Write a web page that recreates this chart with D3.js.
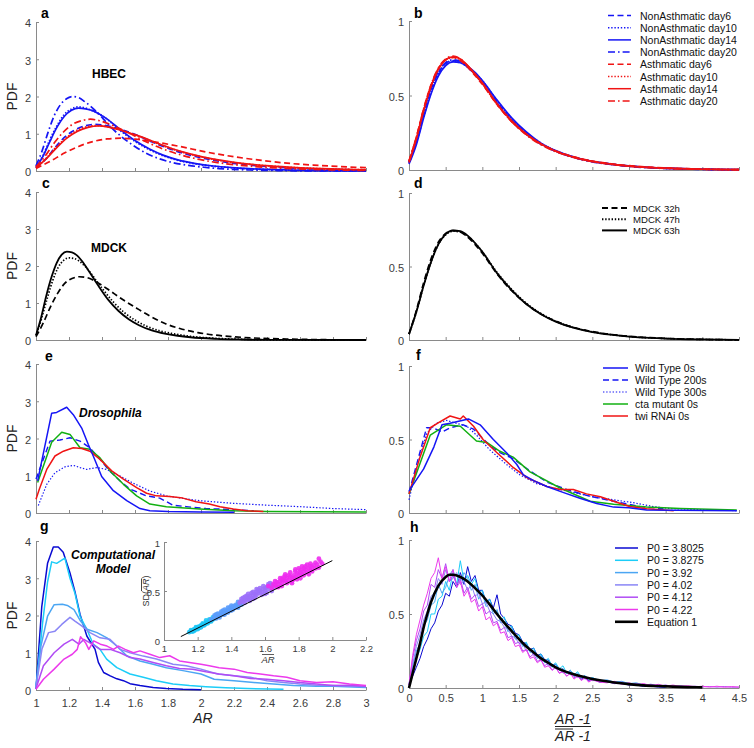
<!DOCTYPE html>
<html><head><meta charset="utf-8">
<script src="https://cdn.jsdelivr.net/npm/d3@7"></script>
<style>body{margin:0;background:#fff}svg{display:block}</style>
</head><body>
<svg id="chart" width="754" height="748"></svg>
<script>
const F = '"Liberation Sans", Arial, Helvetica, sans-serif';

// ---------- tick values ----------
const leftXTicks = [1,1.2,1.4,1.6,1.8,2,2.2,2.4,2.6,2.8,3];
const rightXTicks = [0,0.5,1,1.5,2,2.5,3,3.5,4,4.5];
const leftYTicks = [0,1,2,3,4];
const rightYTicks = [0,0.5,1];
const insetXTicks = [1,1.2,1.4,1.6,1.8,2,2.2];
const insetYTicks = [0,0.5,1];

// ---------- panel a (HBEC, AR vs PDF) ----------
const aNA6_AR  = [1,1.059,1.118,1.177,1.236,1.295,1.354,1.413,1.472,1.531,1.59,1.708,1.826,1.944,2.062,2.18,2.328,2.475,2.623,2.77,3.0];
const aNA6_PDF = [0.085,0.32,0.64,0.92,1.10,1.21,1.25,1.23,1.17,1.09,1.0,0.77,0.57,0.415,0.30,0.215,0.144,0.098,0.068,0.046,0.025];
const aNA10_AR  = [1,1.043,1.085,1.128,1.17,1.213,1.255,1.298,1.34,1.383,1.425,1.51,1.595,1.68,1.765,1.85,1.956,2.063,2.169,2.275,2.488,2.7,2.913,3.0];
const aNA10_PDF = [0.12,0.42,0.85,1.22,1.51,1.66,1.72,1.69,1.62,1.53,1.41,1.09,0.81,0.59,0.42,0.3,0.2,0.134,0.092,0.061,0.026,0.012,0.005,0.004];
const aNA14_AR  = [1,1.043,1.086,1.129,1.172,1.215,1.258,1.301,1.344,1.387,1.43,1.516,1.602,1.688,1.774,1.86,1.968,2.075,2.183,2.29,2.505,2.72,2.935,3.0];
const aNA14_PDF = [0.09,0.40,0.81,1.19,1.47,1.63,1.69,1.67,1.62,1.52,1.40,1.09,0.81,0.59,0.42,0.30,0.20,0.135,0.093,0.063,0.028,0.012,0.005,0.004];
const aNA20_AR  = [1,1.037,1.074,1.111,1.148,1.185,1.222,1.259,1.296,1.333,1.37,1.444,1.518,1.592,1.666,1.74,1.833,1.925,2.018,2.11,2.295,2.48,2.665,3.0];
const aNA20_PDF = [0.14,0.54,1.05,1.49,1.78,1.94,2.0,1.97,1.86,1.73,1.58,1.22,0.92,0.68,0.48,0.34,0.22,0.15,0.1,0.065,0.027,0.011,0.003,0.001];
const aA6_AR  = [1,1.086,1.172,1.258,1.344,1.43,1.516,1.602,1.688,1.774,1.86,2.032,2.204,2.376,2.548,2.72,2.935,3.0];
const aA6_PDF = [0.07,0.26,0.48,0.66,0.79,0.86,0.88,0.855,0.80,0.74,0.67,0.51,0.38,0.28,0.20,0.15,0.10,0.09];
const aA10_AR  = [1,1.062,1.124,1.186,1.248,1.31,1.372,1.434,1.496,1.558,1.62,1.744,1.868,1.992,2.116,2.24,2.395,2.55,2.705,2.86,3.0];
const aA10_PDF = [0.1,0.34,0.65,0.9,1.09,1.19,1.22,1.19,1.12,1.03,0.94,0.72,0.53,0.39,0.28,0.205,0.14,0.094,0.065,0.044,0.032];
const aA14_AR  = [1,1.063,1.126,1.189,1.252,1.315,1.378,1.441,1.504,1.567,1.63,1.756,1.882,2.008,2.134,2.26,2.418,2.575,2.733,2.89,3.0];
const aA14_PDF = [0.08,0.33,0.63,0.89,1.07,1.17,1.21,1.18,1.11,1.02,0.93,0.71,0.52,0.38,0.28,0.2,0.135,0.092,0.063,0.041,0.033];
const aA20_AR  = [1,1.055,1.11,1.165,1.22,1.275,1.33,1.385,1.44,1.495,1.55,1.66,1.77,1.88,1.99,2.1,2.238,2.375,2.513,2.65,2.925,3.0];
const aA20_PDF = [0.11,0.4,0.75,1.04,1.25,1.35,1.39,1.35,1.27,1.16,1.05,0.8,0.59,0.43,0.31,0.225,0.153,0.102,0.071,0.047,0.02,0.016];

// ---------- panel b (normalized HBEC) ----------
const bX = [0,0.1,0.2,0.3,0.4,0.5,0.6,0.7,0.8,0.9,1.0,1.2,1.4,1.6,1.8,2.0,2.25,2.5,2.75,3.0,3.5,4.0,4.5];
const bNA6  = [0.05,0.19,0.38,0.54,0.65,0.715,0.735,0.725,0.69,0.645,0.59,0.455,0.335,0.245,0.177,0.127,0.085,0.058,0.04,0.027,0.012,0.005,0.002];
const bNA10 = [0.05,0.18,0.36,0.52,0.64,0.705,0.73,0.72,0.69,0.65,0.6,0.465,0.345,0.25,0.18,0.128,0.085,0.057,0.039,0.026,0.011,0.005,0.002];
const bNA14 = [0.04,0.17,0.35,0.51,0.63,0.7,0.725,0.72,0.695,0.655,0.6,0.47,0.35,0.255,0.18,0.13,0.087,0.058,0.04,0.027,0.012,0.005,0.002];
const bNA20 = [0.05,0.2,0.39,0.55,0.66,0.72,0.74,0.73,0.69,0.64,0.585,0.45,0.33,0.24,0.173,0.125,0.083,0.055,0.037,0.024,0.01,0.004,0.001];
const bA6  = [0.06,0.22,0.41,0.57,0.68,0.74,0.755,0.735,0.69,0.635,0.575,0.44,0.325,0.24,0.175,0.128,0.088,0.06,0.042,0.029,0.014,0.006,0.002];
const bA10 = [0.06,0.21,0.4,0.56,0.675,0.74,0.755,0.74,0.695,0.64,0.58,0.445,0.33,0.24,0.175,0.127,0.086,0.058,0.04,0.027,0.012,0.005,0.002];
const bA14 = [0.05,0.21,0.4,0.56,0.675,0.74,0.76,0.745,0.7,0.645,0.585,0.445,0.33,0.24,0.174,0.126,0.085,0.058,0.04,0.026,0.012,0.005,0.002];
const bA20 = [0.06,0.22,0.41,0.57,0.685,0.745,0.765,0.745,0.7,0.64,0.58,0.44,0.325,0.235,0.17,0.124,0.084,0.056,0.039,0.026,0.011,0.005,0.002];

// ---------- panel c (MDCK) ----------
const c32_AR  = [1,1.044,1.087,1.131,1.174,1.218,1.262,1.305,1.349,1.392,1.436,1.523,1.61,1.698,1.785,1.872,1.981,2.09,2.199,2.308,2.526,2.744,2.962,3.0];
const c32_PDF = [0.09,0.46,0.89,1.26,1.53,1.66,1.71,1.69,1.61,1.5,1.37,1.1,0.86,0.63,0.44,0.31,0.2,0.13,0.087,0.057,0.025,0.009,0.002,0.002];
const c47_AR  = [1,1.033,1.067,1.1,1.133,1.167,1.2,1.233,1.266,1.3,1.333,1.4,1.466,1.533,1.599,1.666,1.749,1.833,1.916,1.999,2.166,2.332,2.5,3.0];
const c47_PDF = [0.12,0.57,1.11,1.59,1.95,2.15,2.22,2.2,2.12,1.98,1.8,1.4,1.04,0.75,0.54,0.38,0.25,0.17,0.11,0.072,0.03,0.012,0.003,0.0];
const c63_AR  = [1,1.031,1.062,1.094,1.125,1.156,1.187,1.218,1.25,1.281,1.312,1.374,1.437,1.499,1.562,1.624,1.702,1.78,1.858,1.936,2.092,2.248,2.404,3.0];
const c63_PDF = [0.13,0.61,1.19,1.7,2.08,2.31,2.39,2.37,2.28,2.12,1.92,1.49,1.09,0.79,0.56,0.4,0.26,0.173,0.115,0.074,0.032,0.013,0.003,0.0];

// ---------- panel d (normalized MDCK) ----------
const dX = [0,0.1,0.2,0.3,0.4,0.5,0.6,0.7,0.8,0.9,1.0,1.2,1.4,1.6,1.8,2.0,2.25,2.5,2.75,3.0,3.5,4.0,4.5];
const d32 = [0.04,0.2,0.39,0.55,0.665,0.725,0.745,0.735,0.7,0.65,0.59,0.45,0.335,0.245,0.177,0.128,0.085,0.057,0.038,0.025,0.011,0.004,0.001];
const d47 = [0.04,0.19,0.37,0.53,0.65,0.715,0.74,0.735,0.705,0.66,0.6,0.46,0.345,0.25,0.18,0.128,0.084,0.056,0.037,0.024,0.01,0.004,0.001];
const d63 = [0.04,0.19,0.37,0.53,0.65,0.72,0.745,0.74,0.71,0.66,0.6,0.455,0.34,0.245,0.175,0.125,0.082,0.054,0.036,0.023,0.01,0.004,0.001];

// ---------- panel e (Drosophila) [AR, PDF] ----------
const eWT0   = [[1.01,0.86],[1.095,2.68],[1.125,2.7],[1.186,2.84],[1.226,2.64],[1.277,2.28],[1.317,1.84],[1.347,1.53],[1.398,0.98],[1.469,0.6],[1.55,0.33],[1.63,0.12],[1.69,0.06],[1.8,0.04],[2.0,0.03],[2.2,0.02]];
const eWT200 = [[1.0,0.91],[1.085,1.93],[1.145,1.96],[1.206,2.02],[1.267,1.93],[1.327,1.75],[1.388,1.44],[1.448,1.12],[1.51,0.86],[1.57,0.64],[1.67,0.46],[1.75,0.4],[1.83,0.21],[1.91,0.17],[2.03,0.12],[2.2,0.09],[2.32,0.06]];
const eWT300 = [[1.014,0.2],[1.065,0.77],[1.115,1.08],[1.176,1.24],[1.226,1.28],[1.267,1.22],[1.307,1.17],[1.368,1.22],[1.428,1.17],[1.51,0.99],[1.59,0.8],[1.69,0.59],[1.79,0.46],[1.893,0.39],[1.994,0.33],[2.196,0.26],[2.4,0.21],[2.6,0.17],[2.8,0.12],[3.0,0.09]];
const eCta   = [[1.01,0.82],[1.095,1.9],[1.156,2.17],[1.206,2.11],[1.267,1.75],[1.327,1.71],[1.388,1.48],[1.459,1.08],[1.53,0.77],[1.61,0.46],[1.69,0.24],[1.79,0.17],[1.99,0.11],[2.2,0.06],[2.4,0.04],[3.0,0.03]];
const eTwi   = [[1.0,0.37],[1.02,0.64],[1.065,1.17],[1.115,1.53],[1.166,1.66],[1.226,1.75],[1.277,1.73],[1.327,1.66],[1.388,1.44],[1.459,1.13],[1.53,0.91],[1.61,0.68],[1.67,0.53],[1.73,0.46],[1.81,0.44],[1.89,0.4],[1.97,0.3],[2.05,0.24],[2.115,0.17],[2.196,0.11],[2.277,0.06],[2.378,0.04]];

// ---------- panel f (normalized Drosophila) ----------
const fWT0   = [[0,0.15],[0.2,0.3],[0.34,0.45],[0.45,0.6],[0.56,0.61],[0.81,0.64],[0.97,0.6],[1.15,0.5],[1.33,0.41],[1.47,0.33],[1.56,0.26],[1.7,0.22],[1.88,0.18],[2.1,0.14],[2.33,0.1],[2.56,0.065],[2.79,0.04],[3.0,0.035],[3.24,0.02],[4.47,0.016]];
const fWT200 = [[0,0.14],[0.24,0.58],[0.33,0.58],[0.45,0.55],[0.56,0.58],[0.74,0.6],[0.88,0.57],[1.1,0.46],[1.24,0.41],[1.42,0.37],[1.61,0.3],[1.88,0.21],[2.15,0.16],[2.42,0.12],[2.79,0.08],[3.15,0.044],[3.47,0.029]];
const fWT300 = [[0,0.09],[0.11,0.32],[0.24,0.54],[0.37,0.61],[0.51,0.63],[0.65,0.61],[0.79,0.59],[0.92,0.53],[1.1,0.43],[1.33,0.33],[1.51,0.26],[1.74,0.2],[1.97,0.17],[2.24,0.14],[2.51,0.11],[2.79,0.09],[3.06,0.07],[3.33,0.044],[3.56,0.03],[4.15,0.02],[4.47,0.016]];
const fCta   = [[0,0.13],[0.29,0.53],[0.51,0.6],[0.7,0.59],[0.92,0.49],[1.06,0.48],[1.24,0.42],[1.42,0.38],[1.65,0.28],[2.06,0.17],[2.47,0.08],[2.79,0.06],[3.24,0.04],[3.7,0.03],[4.47,0.02]];
const fTwi   = [[0,0.13],[0.15,0.38],[0.29,0.58],[0.42,0.62],[0.56,0.66],[0.7,0.64],[0.74,0.66],[0.88,0.59],[1.01,0.5],[1.2,0.41],[1.42,0.31],[1.61,0.24],[1.88,0.18],[2.06,0.16],[2.24,0.16],[2.42,0.13],[2.61,0.11],[2.79,0.08],[3.01,0.044],[3.24,0.029],[3.61,0.016]];

// ---------- panel g (computational model) [AR, PDF] ----------
const gP38025 = [[1.0,0.03],[1.035,2.24],[1.07,3.4],[1.105,3.84],[1.135,3.84],[1.165,3.7],[1.206,3.14],[1.236,2.64],[1.267,2.03],[1.308,1.45],[1.358,1.09],[1.378,0.74],[1.41,0.47],[1.45,0.38],[1.49,0.3],[1.53,0.25],[1.57,0.17],[1.63,0.12],[1.71,0.07],[1.79,0.04],[1.89,0.02],[2.0,0.01]];
const gP38275 = [[1.0,0.05],[1.04,1.8],[1.07,2.9],[1.095,3.44],[1.125,3.4],[1.175,3.54],[1.206,3.0],[1.236,2.6],[1.267,1.98],[1.308,1.63],[1.347,1.23],[1.388,1.09],[1.428,0.83],[1.49,0.6],[1.57,0.43],[1.65,0.34],[1.73,0.25],[1.83,0.16],[1.93,0.12],[2.03,0.09],[2.15,0.06],[2.28,0.04],[2.5,0.02]];
const gP392 = [[1.0,0.1],[1.03,1.18],[1.07,1.98],[1.11,2.29],[1.16,2.3],[1.19,2.27],[1.23,2.16],[1.27,1.85],[1.31,1.63],[1.37,1.54],[1.43,1.4],[1.49,1.18],[1.55,0.92],[1.63,0.78],[1.71,0.69],[1.79,0.6],[1.89,0.52],[2.0,0.43],[2.08,0.29],[2.2,0.25],[2.32,0.2],[2.44,0.16],[2.56,0.12],[2.7,0.1],[2.8,0.1],[3.0,0.07]];
const gP402 = [[1.0,0.07],[1.036,1.1],[1.076,1.54],[1.115,1.58],[1.156,1.76],[1.206,1.95],[1.236,1.85],[1.277,1.72],[1.327,1.54],[1.388,1.4],[1.448,1.36],[1.51,1.09],[1.57,1.0],[1.65,0.91],[1.73,0.83],[1.83,0.69],[1.91,0.65],[2.0,0.56],[2.1,0.43],[2.2,0.38],[2.3,0.34],[2.4,0.25],[2.5,0.2],[2.6,0.16],[2.7,0.13],[2.8,0.12],[3.0,0.09]];
const gP412 = [[1.0,0.04],[1.045,0.65],[1.11,1.0],[1.17,1.23],[1.22,1.36],[1.26,1.23],[1.29,1.36],[1.34,1.23],[1.39,1.09],[1.45,1.09],[1.51,1.0],[1.57,0.87],[1.63,0.83],[1.71,0.74],[1.79,0.65],[1.87,0.58],[1.95,0.56],[2.03,0.49],[2.11,0.43],[2.2,0.38],[2.3,0.31],[2.4,0.29],[2.5,0.25],[2.6,0.2],[2.7,0.16],[2.8,0.12],[2.9,0.13],[3.0,0.1]];
const gP422 = [[1.0,0.02],[1.045,0.29],[1.11,0.56],[1.17,0.83],[1.22,0.96],[1.25,1.09],[1.27,1.43],[1.3,1.27],[1.32,1.09],[1.35,1.32],[1.39,1.23],[1.43,1.18],[1.47,1.09],[1.5,1.18],[1.54,1.09],[1.59,1.0],[1.63,1.05],[1.69,0.96],[1.75,0.87],[1.81,0.92],[1.87,0.78],[1.93,0.74],[2.0,0.69],[2.05,0.65],[2.11,0.6],[2.2,0.56],[2.28,0.47],[2.36,0.43],[2.44,0.38],[2.52,0.34],[2.6,0.25],[2.7,0.2],[2.8,0.22],[2.9,0.16],[3.0,0.12]];

// ---------- inset scatter: mean AR vs SD(AR) ----------
const insCyan = [[1.15,0.08],[1.16,0.09],[1.17,0.1],[1.17,0.085],[1.18,0.1],[1.18,0.11],[1.19,0.11],[1.19,0.12],[1.2,0.12],[1.2,0.13],[1.21,0.125],[1.21,0.14],[1.22,0.14],[1.22,0.15],[1.23,0.15],[1.23,0.16],[1.24,0.16],[1.25,0.17],[1.25,0.18],[1.26,0.18],[1.27,0.19],[1.27,0.2],[1.28,0.2],[1.29,0.21],[1.3,0.22],
  [1.16,0.1],[1.18,0.095],[1.2,0.11],[1.22,0.13],[1.24,0.15],[1.26,0.17],[1.28,0.19],[1.19,0.13],[1.23,0.17],[1.27,0.21],[1.29,0.23],[1.25,0.2]];
const insBlue = [[1.28,0.21],[1.3,0.23],[1.31,0.22],[1.32,0.24],[1.33,0.25],[1.33,0.26],[1.34,0.27],[1.35,0.26],[1.35,0.28],[1.36,0.28],[1.37,0.29],[1.37,0.3],[1.38,0.3],[1.39,0.31],[1.39,0.33],[1.4,0.32],[1.41,0.34],[1.42,0.33],[1.42,0.35],[1.43,0.36],[1.44,0.36],[1.45,0.37],[1.3,0.25],[1.34,0.29],[1.38,0.33],
  [1.31,0.26],[1.33,0.23],[1.35,0.3],[1.36,0.26],[1.38,0.28],[1.4,0.35],[1.41,0.31],[1.43,0.34],[1.44,0.39],[1.32,0.27],[1.36,0.31],[1.4,0.3],[1.44,0.33],[1.46,0.36]];
const insPurple = [[1.45,0.38],[1.46,0.4],[1.47,0.39],[1.48,0.41],[1.49,0.42],[1.5,0.41],[1.5,0.44],[1.51,0.45],[1.52,0.43],[1.53,0.46],[1.54,0.47],[1.55,0.46],[1.55,0.49],[1.56,0.48],[1.57,0.5],[1.58,0.49],[1.59,0.52],[1.6,0.5],[1.6,0.53],[1.61,0.54],[1.62,0.52],[1.63,0.55],[1.64,0.56],[1.65,0.54],[1.47,0.43],[1.52,0.48],[1.57,0.53],
  [1.46,0.42],[1.48,0.38],[1.49,0.45],[1.51,0.4],[1.53,0.49],[1.54,0.43],[1.56,0.51],[1.58,0.46],[1.59,0.55],[1.61,0.48],[1.62,0.57],[1.64,0.5],[1.5,0.47],[1.55,0.52],[1.6,0.47],[1.63,0.58],[1.48,0.44],[1.53,0.42]];
const insMagenta = [[1.62,0.55],[1.64,0.53],[1.65,0.57],[1.66,0.56],[1.67,0.59],[1.68,0.57],[1.69,0.6],[1.7,0.58],[1.7,0.62],[1.71,0.61],[1.72,0.6],[1.73,0.63],[1.74,0.61],[1.75,0.65],[1.76,0.63],[1.77,0.66],[1.78,0.64],[1.79,0.68],[1.8,0.66],[1.81,0.69],[1.82,0.67],[1.83,0.7],[1.84,0.72],[1.85,0.69],[1.86,0.73],[1.87,0.71],[1.88,0.74],[1.89,0.76],[1.9,0.73],[1.91,0.77],[1.93,0.8],[1.72,0.65],[1.78,0.7],[1.84,0.75],[1.68,0.54],[1.76,0.6],
  [1.66,0.6],[1.67,0.54],[1.69,0.63],[1.7,0.55],[1.72,0.67],[1.73,0.58],[1.75,0.69],[1.76,0.58],[1.78,0.72],[1.79,0.62],[1.8,0.73],[1.81,0.63],[1.82,0.75],[1.83,0.66],[1.85,0.77],[1.86,0.67],[1.87,0.78],[1.88,0.7],[1.9,0.79],[1.92,0.74],[1.92,0.83],[1.94,0.78],[1.74,0.66],[1.77,0.62],[1.81,0.71],[1.87,0.75],[1.71,0.64],[1.83,0.73]];
const insLineX = [1.1, 2.0];
const insLineY = [0.035, 0.81];

// ---------- panel h (normalized computational) ----------
const hX = [0,0.05,0.1,0.15,0.2,0.25,0.3,0.35,0.4,0.45,0.5,0.55,0.6,0.65,0.7,0.75,0.8,0.85,0.9,0.95,1.0,1.05,1.1,1.15,1.2,1.25,1.3,1.35,1.4,1.45,1.5,1.55,1.6,1.65,1.7,1.75,1.8,1.85,1.9,1.95,2.0,2.05,2.1,2.15,2.2,2.25,2.3,2.35,2.4,2.45,2.5,2.6,2.7,2.8,2.9,3.0,3.1,3.2,3.3,3.4,3.5,3.6,3.7,3.8,3.9,4.0,4.1,4.2,4.3,4.4,4.5];
const hP38025 = [0.02,0.08,0.14,0.2,0.28,0.33,0.4,0.44,0.52,0.56,0.64,0.62,0.72,0.68,0.78,0.7,0.82,0.72,0.76,0.66,0.66,0.58,0.6,0.54,0.63,0.5,0.47,0.43,0.42,0.37,0.36,0.31,0.3,0.26,0.27,0.22,0.23,0.19,0.19,0.15,0.16,0.12,0.13,0.1,0.11,0.08,0.09,0.06,0.07,0.05,0.06,0.04,0.045,0.03,0.03,0.02,0.02,0.01,0.012,0.006,0.004];
const hP38275 = [0.02,0.12,0.2,0.26,0.35,0.38,0.5,0.5,0.6,0.62,0.72,0.66,0.78,0.7,0.86,0.72,0.76,0.7,0.74,0.64,0.66,0.58,0.6,0.52,0.52,0.46,0.48,0.4,0.42,0.35,0.36,0.29,0.31,0.25,0.27,0.21,0.23,0.18,0.2,0.15,0.17,0.13,0.15,0.1,0.12,0.09,0.11,0.07,0.08,0.06,0.07,0.05,0.05,0.04,0.04,0.03,0.03,0.02,0.015,0.012,0.008];
const hP392 = [0.03,0.15,0.25,0.3,0.42,0.46,0.56,0.58,0.7,0.64,0.68,0.76,0.8,0.7,0.72,0.78,0.74,0.66,0.7,0.6,0.64,0.55,0.57,0.5,0.53,0.44,0.45,0.38,0.41,0.33,0.34,0.28,0.3,0.24,0.25,0.2,0.22,0.17,0.18,0.14,0.16,0.12,0.13,0.1,0.12,0.08,0.1,0.07,0.085,0.06,0.07,0.05,0.055,0.04,0.045,0.03,0.035,0.02,0.025,0.015,0.018,0.01,0.012,0.008];
const hP402 = [0.02,0.16,0.28,0.36,0.46,0.52,0.62,0.64,0.74,0.7,0.8,0.72,0.74,0.78,0.7,0.72,0.66,0.7,0.62,0.64,0.57,0.58,0.52,0.5,0.46,0.45,0.41,0.4,0.35,0.34,0.3,0.3,0.25,0.26,0.22,0.22,0.18,0.19,0.15,0.16,0.13,0.13,0.1,0.11,0.09,0.09,0.07,0.08,0.06,0.065,0.05,0.05,0.04,0.04,0.03,0.03,0.02,0.025,0.015,0.018,0.01,0.012,0.008,0.01,0.006,0.007];
const hP412 = [0.02,0.2,0.32,0.4,0.52,0.56,0.7,0.68,0.8,0.74,0.84,0.72,0.76,0.7,0.74,0.64,0.68,0.6,0.63,0.55,0.57,0.5,0.52,0.44,0.45,0.39,0.41,0.34,0.35,0.3,0.31,0.25,0.26,0.21,0.23,0.18,0.19,0.15,0.17,0.12,0.14,0.1,0.12,0.08,0.1,0.07,0.08,0.055,0.07,0.045,0.06,0.04,0.045,0.03,0.04,0.02,0.03,0.02,0.025,0.012,0.02,0.01,0.015,0.01,0.012,0.008,0.01,0.006,0.01,0.005,0.006];
const hP422 = [0.02,0.22,0.36,0.46,0.56,0.64,0.74,0.78,0.88,0.74,0.82,0.72,0.8,0.68,0.72,0.62,0.66,0.58,0.6,0.52,0.55,0.46,0.48,0.42,0.44,0.37,0.38,0.32,0.34,0.28,0.29,0.24,0.26,0.2,0.21,0.17,0.19,0.14,0.15,0.12,0.14,0.1,0.11,0.08,0.1,0.06,0.08,0.05,0.07,0.04,0.055,0.04,0.035,0.045,0.025,0.035,0.02,0.03,0.015,0.025,0.012,0.02,0.01,0.015,0.008,0.012,0.006,0.012,0.005,0.01,0.006];
const hEqX = [0,0.05,0.1,0.15,0.2,0.25,0.3,0.4,0.5,0.55,0.6,0.7,0.8,0.9,1.0,1.1,1.2,1.3,1.4,1.5,1.6,1.7,1.8,1.9,2.0,2.2,2.4,2.6,2.8,3.0,3.2,3.4,3.6,3.8,4.0];
const hEqY = [0,0.1,0.2,0.3,0.41,0.5,0.58,0.69,0.75,0.765,0.765,0.75,0.72,0.675,0.625,0.565,0.5,0.44,0.385,0.33,0.28,0.24,0.2,0.17,0.14,0.1,0.073,0.052,0.037,0.026,0.018,0.013,0.009,0.006,0.004];

// ---------- legend labels ----------
const bLegend = ["NonAsthmatic day6","NonAsthmatic day10","NonAsthmatic day14","NonAsthmatic day20","Asthmatic day6","Asthmatic day10","Asthmatic day14","Asthmatic day20"];
const dLegend = ["MDCK 32h","MDCK 47h","MDCK 63h"];
const fLegend = ["Wild Type 0s","Wild Type 200s","Wild Type 300s","cta mutant 0s","twi RNAi 0s"];
const hLegend = ["P0 = 3.8025","P0 = 3.8275","P0 = 3.92","P0 = 4.02","P0 = 4.12","P0 = 4.22","Equation 1"];

// ---------- styles ----------
const BLUE = "#1515f5", RED = "#f01414", GREEN = "#12b012", BLACK = "#000";
const DASH = "6,3.5", DOT = "1.4,1.8", DASHDOT = "7,3,1.6,3";
const pColors = ["#0a0ad2","#1ccdf8","#4ba6f3","#8a86f6","#b04cf4","#ec3aec"];

const svg = d3.select("#chart");
const zip = (xs, ys) => ys.map((v, i) => [xs[i], v]);
const fmt = d => String(+d.toFixed(2));

function panel(o) {
  const x = d3.scaleLinear().domain(o.xDom).range(o.xRange);
  const y = d3.scaleLinear().domain(o.yDom).range(o.yRange);
  const gx = svg.append("g").attr("transform", `translate(0,${o.yRange[0]})`)
    .call(d3.axisBottom(x).tickValues(o.xTicks).tickSize(-3).tickSizeOuter(0)
      .tickPadding(o.xPad || 8).tickFormat(o.xLabels ? fmt : () => ""));
  const gy = svg.append("g").attr("transform", `translate(${o.xRange[0]},0)`)
    .call(d3.axisLeft(y).tickValues(o.yTicks).tickSize(-3).tickSizeOuter(0)
      .tickPadding(o.yPad || 5).tickFormat(fmt));
  [gx, gy].forEach(g => {
    g.attr("font-family", F).attr("font-size", o.fs || 11);
    g.selectAll("path.domain").attr("stroke", "#8a8a8a").attr("stroke-width", 1);
    g.selectAll(".tick line").attr("stroke", "#8a8a8a");
    g.selectAll("text").attr("fill", "#3c3c3c");
  });
  gy.selectAll("text").attr("dy", "0.45em");
  return { x, y };
}

function line(p, data, color, dash, width, curve) {
  const gen = d3.line().x(d => p.x(d[0])).y(d => p.y(d[1]));
  if (curve) gen.curve(curve);
  svg.append("path").attr("d", gen(data)).attr("fill", "none")
    .attr("stroke", color).attr("stroke-width", width)
    .attr("stroke-dasharray", dash || null)
    .attr("stroke-linejoin", "round");
}

function text(x, y, s, opt = {}) {
  return svg.append("text").attr("x", x).attr("y", y).text(s)
    .attr("font-family", F).attr("font-size", opt.size || 11)
    .attr("font-weight", opt.weight || null).attr("font-style", opt.style || null)
    .attr("text-anchor", opt.anchor || "start").attr("fill", opt.fill || "#000")
    .attr("dominant-baseline", opt.base || null);
}

function legend(x1, x2, tx, y0, dy, labels, colors, dashes, widths, fs) {
  labels.forEach((lab, i) => {
    const yy = y0 + i * dy;
    svg.append("line").attr("x1", x1).attr("x2", x2).attr("y1", yy).attr("y2", yy)
      .attr("stroke", colors[i]).attr("stroke-width", widths[i])
      .attr("stroke-dasharray", dashes[i] || null);
    text(tx, yy, lab, { size: fs || 10.5, base: "central", fill: "#111" });
  });
}

const LX = [36, 366], RX = [409, 739];
const SM = d3.curveMonotoneX;

// ===== Panel a =====
const pa = panel({ xDom: [1, 3], xRange: LX, yDom: [0, 4], yRange: [171, 22], xTicks: leftXTicks, yTicks: leftYTicks });
line(pa, zip(aNA6_AR, aNA6_PDF), BLUE, DASH, 1.7, SM);
line(pa, zip(aNA10_AR, aNA10_PDF), BLUE, DOT, 1.8, SM);
line(pa, zip(aNA14_AR, aNA14_PDF), BLUE, null, 1.7, SM);
line(pa, zip(aNA20_AR, aNA20_PDF), BLUE, DASHDOT, 1.7, SM);
line(pa, zip(aA6_AR, aA6_PDF), RED, DASH, 1.7, SM);
line(pa, zip(aA10_AR, aA10_PDF), RED, DOT, 1.8, SM);
line(pa, zip(aA14_AR, aA14_PDF), RED, null, 1.7, SM);
line(pa, zip(aA20_AR, aA20_PDF), RED, DASHDOT, 1.7, SM);
text(109, 78, "HBEC", { size: 12, weight: "bold", anchor: "middle" });

// ===== Panel b =====
const pb = panel({ xDom: [0, 4.5], xRange: RX, yDom: [0, 1], yRange: [170, 21], xTicks: rightXTicks, yTicks: rightYTicks });
[[bNA6, BLUE, DASH], [bNA10, BLUE, DOT], [bNA14, BLUE, null], [bNA20, BLUE, DASHDOT],
 [bA6, RED, DASH], [bA10, RED, DOT], [bA14, RED, null], [bA20, RED, DASHDOT]]
  .forEach(s => line(pb, zip(bX, s[0]), s[1], s[2], 1.7, SM));
legend(608, 631, 640, 15.5, 12.2, bLegend,
  [BLUE, BLUE, BLUE, BLUE, RED, RED, RED, RED],
  [DASH, DOT, null, DASHDOT, DASH, DOT, null, DASHDOT], [1.5,1.5,1.5,1.5,1.5,1.5,1.5,1.5]);

// ===== Panel c =====
const pc = panel({ xDom: [1, 3], xRange: LX, yDom: [0, 4], yRange: [340, 192], xTicks: leftXTicks, yTicks: leftYTicks });
line(pc, zip(c32_AR, c32_PDF), BLACK, DASH, 1.7, SM);
line(pc, zip(c47_AR, c47_PDF), BLACK, DOT, 1.7, SM);
line(pc, zip(c63_AR, c63_PDF), BLACK, null, 1.8, SM);
text(109, 252, "MDCK", { size: 12, weight: "bold", anchor: "middle" });

// ===== Panel d =====
const pd = panel({ xDom: [0, 4.5], xRange: RX, yDom: [0, 1], yRange: [340, 193], xTicks: rightXTicks, yTicks: rightYTicks });
line(pd, zip(dX, d32), BLACK, DASH, 1.7, SM);
line(pd, zip(dX, d47), BLACK, DOT, 1.7, SM);
line(pd, zip(dX, d63), BLACK, null, 1.8, SM);
legend(602, 627, 633, 208, 11.2, dLegend, [BLACK, BLACK, BLACK], [DASH, DOT, null], [2, 2, 2], 9.6);

// ===== Panel e =====
const pe = panel({ xDom: [1, 3], xRange: LX, yDom: [0, 4], yRange: [513, 364], xTicks: leftXTicks, yTicks: leftYTicks });
line(pe, eWT300, BLUE, DOT, 1.2);
line(pe, eWT200, BLUE, DASH, 1.4);
line(pe, eCta, GREEN, null, 1.5);
line(pe, eTwi, RED, null, 1.5);
line(pe, eWT0, BLUE, null, 1.5);
text(79, 417, "Drosophila", { size: 12, weight: "bold", style: "italic" });

// ===== Panel f =====
const pf = panel({ xDom: [0, 4.5], xRange: RX, yDom: [0, 1], yRange: [513, 366], xTicks: rightXTicks, yTicks: rightYTicks });
line(pf, fWT300, BLUE, DOT, 1.2);
line(pf, fWT200, BLUE, DASH, 1.4);
line(pf, fCta, GREEN, null, 1.5);
line(pf, fTwi, RED, null, 1.5);
line(pf, fWT0, BLUE, null, 1.5);
legend(603, 628, 635, 368, 12, fLegend, [BLUE, BLUE, BLUE, GREEN, RED], [null, DASH, DOT, null, null], [1.5, 1.5, 1.2, 1.5, 1.5]);

// ===== Panel g =====
const pg = panel({ xDom: [1, 3], xRange: LX, yDom: [0, 4], yRange: [690, 541], xTicks: leftXTicks, yTicks: leftYTicks, xLabels: true, xPad: 9 });
[gP38025, gP38275, gP392, gP402, gP412, gP422].forEach((s, i) => line(pg, s, pColors[i], null, 1.5));
text(113, 559, "Computational", { size: 12, weight: "bold", style: "italic", anchor: "middle" });
text(113, 573, "Model", { size: 12, weight: "bold", style: "italic", anchor: "middle" });
text(203, 723, "AR", { size: 14, style: "italic", anchor: "middle", fill: "#222" });

// inset
const pi = panel({ xDom: [1, 2.2], xRange: [164, 366], yDom: [0, 1], yRange: [640, 542], xTicks: insetXTicks, yTicks: insetYTicks, xLabels: true, xPad: 5, fs: 9.5, yPad: 4 });
[[insCyan, "#1cc6f6"], [insBlue, "#5a9cfc"], [insPurple, "#9c70fa"], [insMagenta, "#ee2cee"]].forEach(grp => {
  svg.append("g").selectAll("circle").data(grp[0]).join("circle")
    .attr("cx", d => pi.x(d[0])).attr("cy", d => pi.y(d[1])).attr("r", 2.4)
    .attr("fill", grp[1]).attr("opacity", 0.9);
});
line(pi, zip(insLineX, insLineY), BLACK, null, 1);
text(268, 663, "AR", { size: 9.5, style: "italic", anchor: "middle", fill: "#333" });
svg.append("line").attr("x1", 262).attr("x2", 274).attr("y1", 654.5).attr("y2", 654.5).attr("stroke", "#333").attr("stroke-width", 0.8);
const iyl = svg.append("text").attr("transform", "translate(149,591) rotate(-90)")
  .attr("text-anchor", "middle").attr("font-family", F).attr("font-size", 9).attr("fill", "#333");
iyl.append("tspan").text("SD(");
iyl.append("tspan").text("AR").attr("font-style", "italic").style("text-decoration", "overline");
iyl.append("tspan").text(")");

// ===== Panel h =====
const ph = panel({ xDom: [0, 4.5], xRange: RX, yDom: [0, 1], yRange: [688, 540], xTicks: rightXTicks, yTicks: rightYTicks, xLabels: true, xPad: 6 });
[hP38025, hP38275, hP392, hP402, hP412, hP422].forEach((s, i) => line(ph, zip(hX, s), pColors[i], null, 1));
line(ph, zip(hEqX, hEqY), BLACK, null, 2.6, SM);
legend(615, 638, 647, 548, 12.3, hLegend, pColors.concat([BLACK]), [null, null, null, null, null, null, null], [1.5, 1.5, 1.5, 1.5, 1.5, 1.5, 2.6]);
text(573, 724, "AR -1", { size: 14, style: "italic", anchor: "middle", fill: "#222" });
svg.append("line").attr("x1", 555).attr("x2", 591).attr("y1", 726.5).attr("y2", 726.5).attr("stroke", "#222").attr("stroke-width", 1);
svg.append("line").attr("x1", 555).attr("x2", 573).attr("y1", 729).attr("y2", 729).attr("stroke", "#222").attr("stroke-width", 1);
text(573, 741, "AR -1", { size: 14, style: "italic", anchor: "middle", fill: "#222" });

// ===== y labels (PDF) and panel letters =====
[[96.5], [266], [438.5], [615.5]].forEach(c => {
  svg.append("text").attr("transform", `translate(17,${c[0]}) rotate(-90)`).text("PDF")
    .attr("text-anchor", "middle").attr("font-family", F).attr("font-size", 14).attr("fill", "#222");
});
[["a", 41, 18], ["b", 414, 18], ["c", 42, 188], ["d", 414, 188], ["e", 45, 361], ["f", 416, 360], ["g", 40, 531], ["h", 410, 532]]
  .forEach(l => text(l[1], l[2], l[0], { size: 14, weight: "bold" }));
</script>
</body></html>
